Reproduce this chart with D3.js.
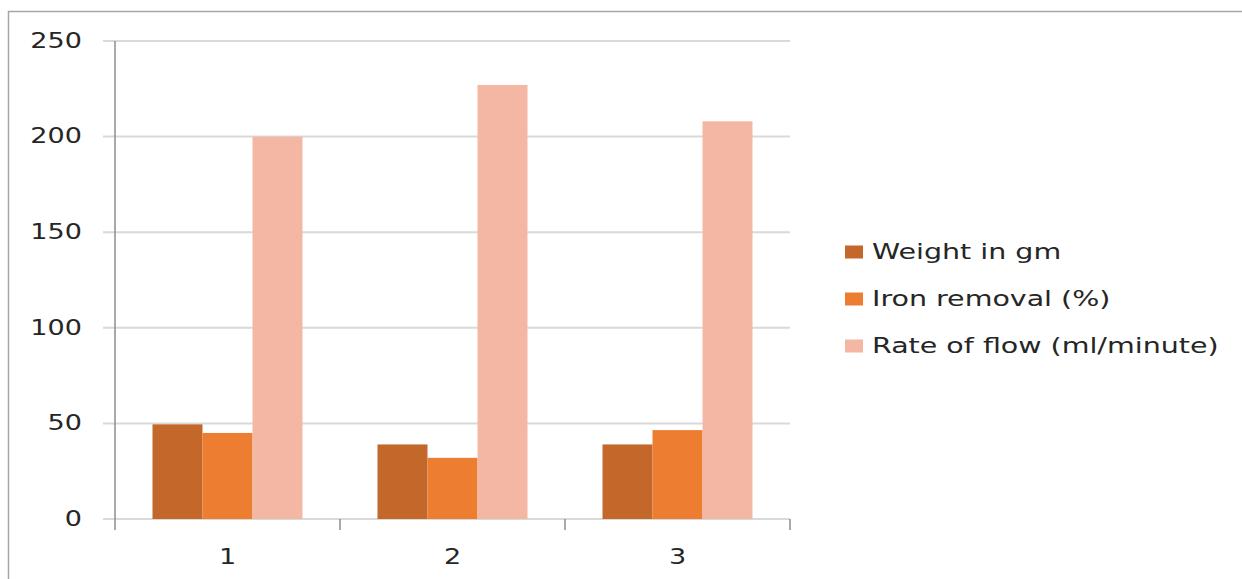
<!DOCTYPE html>
<html>
<head>
<meta charset="utf-8">
<script src="https://cdn.jsdelivr.net/npm/d3@7"></script>
<style>
  html, body { margin: 0; padding: 0; background: #fff; }
  svg { display: block; }
  text { font-family: "DejaVu Sans", sans-serif; fill: #262626; }
</style>
</head>
<body>
<svg id="chart" width="1242" height="579"></svg>
<script>
// Chart data
const categories = ["1", "2", "3"];
const seriesNames = ["Weight in gm", "Iron removal (%)", "Rate of flow (ml/minute)"];
const weightGm = [49.5, 39, 39];
const ironRemoval = [45, 32, 46.5];
const flowRate = [200, 227, 208];
const yTicks = [0, 50, 100, 150, 200, 250];

const seriesValues = [weightGm, ironRemoval, flowRate];
const colors = ["#C4672A", "#ED7D31", "#F4B7A4"];

const svg = d3.select("#chart");
const W = 1242, H = 579;
const plot = { left: 115, right: 790, top: 41, bottom: 519 };
const stretch = 1.32;       // horizontal text stretch for axis labels
const legendStretch = 1.39; // horizontal text stretch for legend labels
const fontSize = 20.5;

// Outer frame
svg.append("rect")
  .attr("x", 8.5).attr("y", 11.5)
  .attr("width", W).attr("height", H)
  .attr("fill", "none").attr("stroke", "#a6a6a6").attr("stroke-width", 1.5);

const x = d3.scaleBand()
  .domain(categories)
  .range([plot.left, plot.right])
  .paddingInner(1 / 3)
  .paddingOuter(1 / 6);

const xSeries = d3.scaleBand()
  .domain(d3.range(seriesNames.length))
  .range([0, x.bandwidth()])
  .padding(0);

const y = d3.scaleLinear().domain([0, 250]).range([plot.bottom, plot.top]);

// Horizontal gridlines
svg.append("g")
  .selectAll("line")
  .data(yTicks)
  .join("line")
  .attr("x1", plot.left - 12).attr("x2", plot.right)
  .attr("y1", d => y(d)).attr("y2", d => y(d))
  .attr("stroke", "#d9d9d9").attr("stroke-width", 2);

// Bars
const groups = svg.append("g")
  .selectAll("g")
  .data(categories)
  .join("g")
  .attr("transform", c => `translate(${x(c)},0)`);

groups.selectAll("rect")
  .data((c, ci) => seriesValues.map((vals, si) => ({ si, v: vals[ci] })))
  .join("rect")
  .attr("x", d => xSeries(d.si))
  .attr("width", xSeries.bandwidth())
  .attr("y", d => y(d.v))
  .attr("height", d => y(0) - y(d.v))
  .attr("fill", d => colors[d.si]);

// Y axis line
svg.append("line")
  .attr("x1", plot.left).attr("x2", plot.left)
  .attr("y1", plot.top).attr("y2", plot.bottom + 11)
  .attr("stroke", "#8c8c8c").attr("stroke-width", 1.5);

// Category boundary ticks on the x axis
const boundaries = categories.map(c => x(c) + x.bandwidth() + x.step() * x.paddingInner() / 2);
svg.append("g")
  .selectAll("line")
  .data(boundaries)
  .join("line")
  .attr("x1", d => d).attr("x2", d => d)
  .attr("y1", plot.bottom).attr("y2", plot.bottom + 11)
  .attr("stroke", "#8c8c8c").attr("stroke-width", 1.5);

// Y tick labels
svg.append("g")
  .selectAll("text")
  .data(yTicks)
  .join("text")
  .attr("transform", d => `translate(82,${y(d)}) scale(${stretch},1)`)
  .attr("text-anchor", "end")
  .attr("dominant-baseline", "central")
  .style("font-size", fontSize + "px")
  .text(d => d);

// X tick labels
svg.append("g")
  .selectAll("text")
  .data(categories)
  .join("text")
  .attr("transform", c => `translate(${x(c) + x.bandwidth() / 2},557) scale(${stretch},1)`)
  .attr("text-anchor", "middle")
  .attr("dominant-baseline", "central")
  .style("font-size", fontSize + "px")
  .text(c => c);

// Legend
const legend = svg.append("g")
  .selectAll("g")
  .data(seriesNames)
  .join("g")
  .attr("transform", (d, i) => `translate(845,${252 + i * 47})`);

legend.append("rect")
  .attr("x", 0).attr("y", -6.5)
  .attr("width", 18).attr("height", 13)
  .attr("fill", (d, i) => colors[i]);

legend.append("text")
  .attr("transform", `translate(27,0) scale(${legendStretch},1)`)
  .attr("dominant-baseline", "central")
  .style("font-size", fontSize + "px")
  .text(d => d);
</script>
</body>
</html>
